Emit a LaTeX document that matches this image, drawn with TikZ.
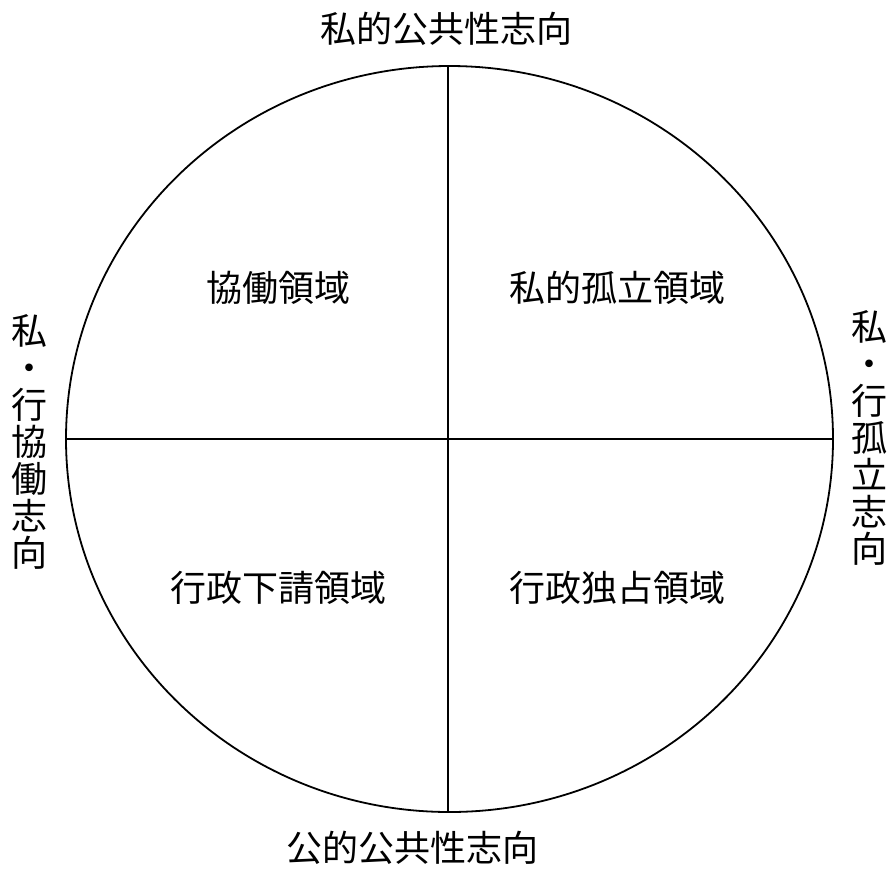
\documentclass[tikz,border=0pt]{standalone}
\usepackage{fontspec}
\newfontfamily\jp{Noto Sans CJK JP}
\begin{document}
\begin{tikzpicture}[x=1pt,y=-1pt,
  lbl/.style={inner sep=0pt,font=\jp\fontsize{36}{37}\selectfont},
  vlbl/.style={lbl,align=center},
  edge/.style={line width=1.8pt,black}]
\useasboundingbox (0,0) rectangle (888,868);
\coordinate (c) at (449.5,439);
\draw[edge] (c) ellipse [x radius=383.5, y radius=373];
\coordinate (t) at (448,66);
\coordinate (b) at (448,812);
\coordinate (l) at (66,439);
\coordinate (r) at (833,439);
\draw[edge] (t) -- (b);
\draw[edge] (l) -- (r);
\node[lbl] (top) at (446,29) {私的公共性志向};
\node[lbl] (bot) at (412,848) {公的公共性志向};
\node[lbl] (q1) at (278.5,288) {協働領域};
\node[lbl] (q2) at (617,288) {私的孤立領域};
\node[lbl] (q3) at (278.5,588) {行政下請領域};
\node[lbl] (q4) at (617,588) {行政独占領域};
\node[vlbl] (lt) at (30,442) {私\\・\\行\\協\\働\\志\\向};
\node[vlbl] (rt) at (869,438) {私\\・\\行\\孤\\立\\志\\向};
\end{tikzpicture}
\end{document}
